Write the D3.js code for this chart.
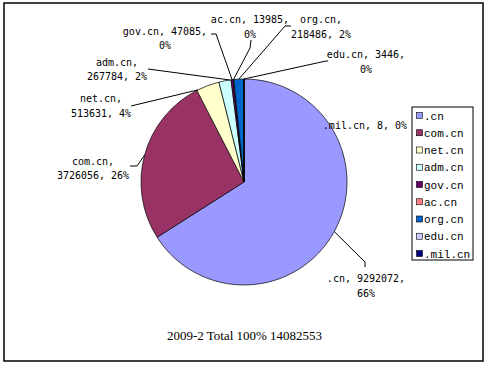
<!DOCTYPE html>
<html><head><meta charset="utf-8">
<script src="https://cdn.jsdelivr.net/npm/d3@7"></script>
<style>body{margin:0;background:#fff;}svg{display:block;}</style>
</head><body>
<svg id="c" width="486" height="365"></svg>
<script>
const categories = [".cn","com.cn","net.cn","adm.cn","gov.cn","ac.cn","org.cn","edu.cn",".mil.cn"];
const values = [9292072,3726056,513631,267784,47085,13985,218486,3446,8];
const percents = ["66%","26%","4%","2%","0%","0%","2%","0%","0%"];
const colors = ["#9999FF","#993366","#FFFFCC","#CCFFFF","#660066","#FF8080","#0066CC","#CCCCFF","#000080"];
const title = "2009-2 Total 100% 14082553";

// label layout: break position (1 = after name, 2 = after value, 3 = none), centre x, first baseline y,
// leader path points near the label, attach fraction within slice
const labelLayout = [
  {brk:2, x:366, y:282, lead:[[365,267],[365,262]], t:0.5},
  {brk:1, x:93,  y:164.5, lead:[[130,166],[137,166]], t:0.5},
  {brk:1, x:101, y:102, lead:[[131,106]], t:0.05},
  {brk:1, x:117, y:65.5, lead:[[148,69]], t:0.9},
  {brk:2, x:165, y:34.5, lead:[[211,34],[216,34]], t:0.5},
  {brk:2, x:250, y:23, lead:[[251,40],[250,48]], t:0.5},
  {brk:1, x:321, y:23, lead:[[291,26],[285,26]], t:0.5},
  {brk:2, x:366, y:58, lead:[[328,61],[326,61]], t:0.5},
  {brk:3, x:365, y:129, lead:null, t:0.5}
];

const svg = d3.select("#c");
const cx = 244, cy = 182, R = 103;

svg.append("rect").attr("x",4).attr("y",3).attr("width",479).attr("height",358)
  .attr("fill","#fff").attr("stroke","#000").attr("stroke-width",1.5);

const pie = d3.pie().sort(null).value(d => d)(values);
const arc = d3.arc().innerRadius(0).outerRadius(R);
const g = svg.append("g").attr("transform",`translate(${cx},${cy})`);
g.selectAll("path").data(pie).join("path")
  .attr("d", arc).attr("fill",(d,i)=>colors[i])
  .attr("stroke","#000").attr("stroke-width",0.7);

// leader lines
const line = d3.line();
pie.forEach((d,i)=>{
  const L = labelLayout[i];
  if(!L.lead) return;
  const a = d.startAngle + (d.endAngle - d.startAngle)*L.t;
  const p = [cx + R*Math.sin(a), cy - R*Math.cos(a)];
  svg.append("path").attr("d", line([...L.lead, p]))
    .attr("fill","none").attr("stroke","#000").attr("stroke-width",1);
});

// labels
pie.forEach((d,i)=>{
  const L = labelLayout[i];
  const parts = [categories[i], String(values[i]), percents[i]];
  let lines;
  if (L.brk===1) lines = [parts[0]+",", parts[1]+", "+parts[2]];
  else if (L.brk===2) lines = [parts[0]+", "+parts[1]+",", parts[2]];
  else lines = [parts.join(", ")];
  const t = svg.append("text").attr("text-anchor","middle")
    .attr("font-family","'DejaVu Sans Mono', 'Liberation Mono', monospace").attr("font-size",10)
    .attr("fill","#000");
  lines.forEach((s,k)=> t.append("tspan").attr("x",L.x).attr("y",L.y + k*14.5).text(s));
});

// legend
const lg = svg.append("g");
lg.append("rect").attr("x",412).attr("y",107).attr("width",61).attr("height",153)
  .attr("fill","#fff").attr("stroke","#000").attr("stroke-width",1);
const step = 17.25;
categories.forEach((c,i)=>{
  const yc = 116 + i*step;
  lg.append("rect").attr("x",416.5).attr("y",yc-3.5).attr("width",6).attr("height",6)
    .attr("fill",colors[i]).attr("stroke","#000").attr("stroke-width",0.6);
  lg.append("text").attr("x",424).attr("y",yc+3.5)
    .attr("font-family","'Liberation Mono', monospace").attr("font-size",11)
    .attr("fill","#000").text(c);
});

svg.append("text").attr("x",244.5).attr("y",340).attr("text-anchor","middle")
  .attr("font-family","'Liberation Serif', 'Times New Roman', serif").attr("font-size",13)
  .attr("fill","#000").text(title);
</script>
</body></html>
